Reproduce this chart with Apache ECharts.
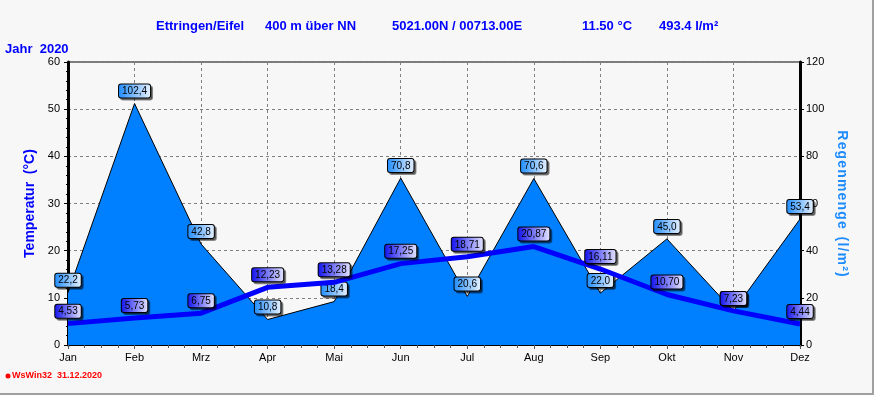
<!DOCTYPE html>
<html><head><meta charset="utf-8">
<script src="https://cdn.jsdelivr.net/npm/echarts@6/dist/echarts.min.js"></script>
<style>html,body{margin:0;padding:0;background:#f7f7f7}#c{width:874px;height:395px}</style>
</head><body><div id="c"></div>
<script>
const months = ['Jan','Feb','Mrz','Apr','Mai','Jun','Jul','Aug','Sep','Okt','Nov','Dez'];
const rain = [22.2,102.4,42.8,10.8,18.4,70.8,20.6,70.6,22.0,45.0,14.4,53.4];
const temp = [4.53,5.73,6.75,12.23,13.28,17.25,18.71,20.87,16.11,10.70,7.23,4.44];
const tempTicks = [0,10,20,30,40,50,60];
const rainTicks = [0,20,40,60,80,100,120];

const chart = echarts.init(document.getElementById('c'));
const G = echarts.graphic.LinearGradient;
const narrow = '"Liberation Sans Narrow", "Liberation Sans", Arial, sans-serif';
const hdr = (text, left, top) => ({text, left, top, textStyle:{fontFamily:narrow, fontSize:13, fontWeight:'bold', color:'#0000ff'}});
function lbl(grad, dec){
  return {show:true, position:'top', distance:6, fontFamily:'"Liberation Sans", Arial, sans-serif', fontSize:10, color:'#000',
    formatter: p => p.value.toFixed(dec).replace('.',','),
    backgroundColor: grad, borderColor:'#000', borderWidth:1, borderRadius:2, padding:[2,3,1,3],
    shadowColor:'rgba(0,0,0,0.45)', shadowOffsetX:2, shadowOffsetY:2, shadowBlur:0};
}
const hs = '\u200A';
const rainName = 'Regenmenge'.split('').join(hs) + '  ' + '(l/m²)'.split('').join(hs);
chart.setOption({
  backgroundColor:'#f7f7f7',
  animation:false,
  title:[
    hdr('Ettringen/Eifel',151,15), hdr('400 m über NN',260,15), hdr('5021.00N / 00713.00E',387,15),
    hdr('11.50 °C',577,15), hdr('493.4 l/m²',654,15), hdr('Jahr  2020',0,38)
  ],
  grid:{left:68,right:74,top:62,bottom:50,show:true,borderColor:'#000',borderWidth:1,backgroundColor:'transparent'},
  xAxis:[{type:'category',data:months,boundaryGap:false,
    axisLine:{lineStyle:{color:'#000',width:2}},axisTick:{show:true,length:4,lineStyle:{color:'#555'}},
    axisLabel:{color:'#000',fontSize:11,fontFamily:'"Liberation Sans", Arial',margin:7},
    splitLine:{show:true,lineStyle:{color:'#808080',type:[3,3]}}},
   {type:'value',min:0,max:11,interval:1,position:'bottom',axisLine:{show:false},axisLabel:{show:false},
    axisTick:{show:false},minorTick:{show:true,splitNumber:4,length:3,lineStyle:{color:'#555'}},splitLine:{show:false}}],
  yAxis:[{type:'value',min:0,max:60,interval:10,name:'Temperatur  (°C)',nameLocation:'middle',nameGap:27,nameRotate:90,
    nameTextStyle:{color:'#0000ff',fontWeight:'bold',fontSize:14,fontFamily:'"Liberation Sans", Arial'},
    axisLine:{show:true,lineStyle:{color:'#000',width:3}},axisTick:{show:true,length:4,lineStyle:{color:'#000'}},
    minorTick:{show:true,splitNumber:5,length:2,lineStyle:{color:'#000'}},
    axisLabel:{color:'#000',fontSize:11,fontFamily:'"Liberation Sans", Arial',margin:8},
    splitLine:{show:true,lineStyle:{color:'#808080',type:[3,3]}}},
   {type:'value',min:0,max:120,interval:20,position:'right',name:rainName,nameLocation:'middle',nameGap:30,nameRotate:-90,
    nameTextStyle:{color:'#1e8cff',fontWeight:'bold',fontSize:14,fontFamily:'"Liberation Sans", Arial'},
    axisLine:{show:true,lineStyle:{color:'#000',width:3}},axisTick:{show:true,length:4,lineStyle:{color:'#000'}},
    minorTick:{show:true,splitNumber:4,length:2,lineStyle:{color:'#000'}},
    axisLabel:{color:'#000',fontSize:11,fontFamily:'"Liberation Sans", Arial',margin:6},
    splitLine:{show:false}}],
  series:[
    {type:'line',yAxisIndex:1,data:rain,symbol:'circle',symbolSize:0,showSymbol:true,z:2,
      itemStyle:{color:'#0080ff'},
      lineStyle:{color:'#000',width:1},areaStyle:{color:'#0080ff',opacity:1},
      label:lbl(new G(0,0,1,0,[{offset:0,color:'#1e8cff'},{offset:1,color:'#e8f2ff'}]),1)},
    {type:'line',yAxisIndex:0,data:temp,symbol:'circle',symbolSize:0,showSymbol:true,z:3,
      itemStyle:{color:'#0000ff'},
      lineStyle:{color:'#0000ff',width:5},
      label:lbl(new G(0,0,1,0,[{offset:0,color:'#1010ee'},{offset:1,color:'#e6e6ff'}]),2)}
  ],
  graphic:[
    {type:'circle',shape:{cx:8,cy:376,r:2.5},style:{fill:'#ff0000'}},
    {type:'text',left:12,top:371,style:{text:'WsWin32  31.12.2020',fill:'#ff0000',font:'bold 9px "Liberation Sans", Arial'}},
    {type:'rect',shape:{x:872,y:0,width:2,height:395},style:{fill:'#a0a0a0'}},
    {type:'rect',shape:{x:0,y:393,width:874,height:2},style:{fill:'#a0a0a0'}}
  ]
});
</script></body></html>
